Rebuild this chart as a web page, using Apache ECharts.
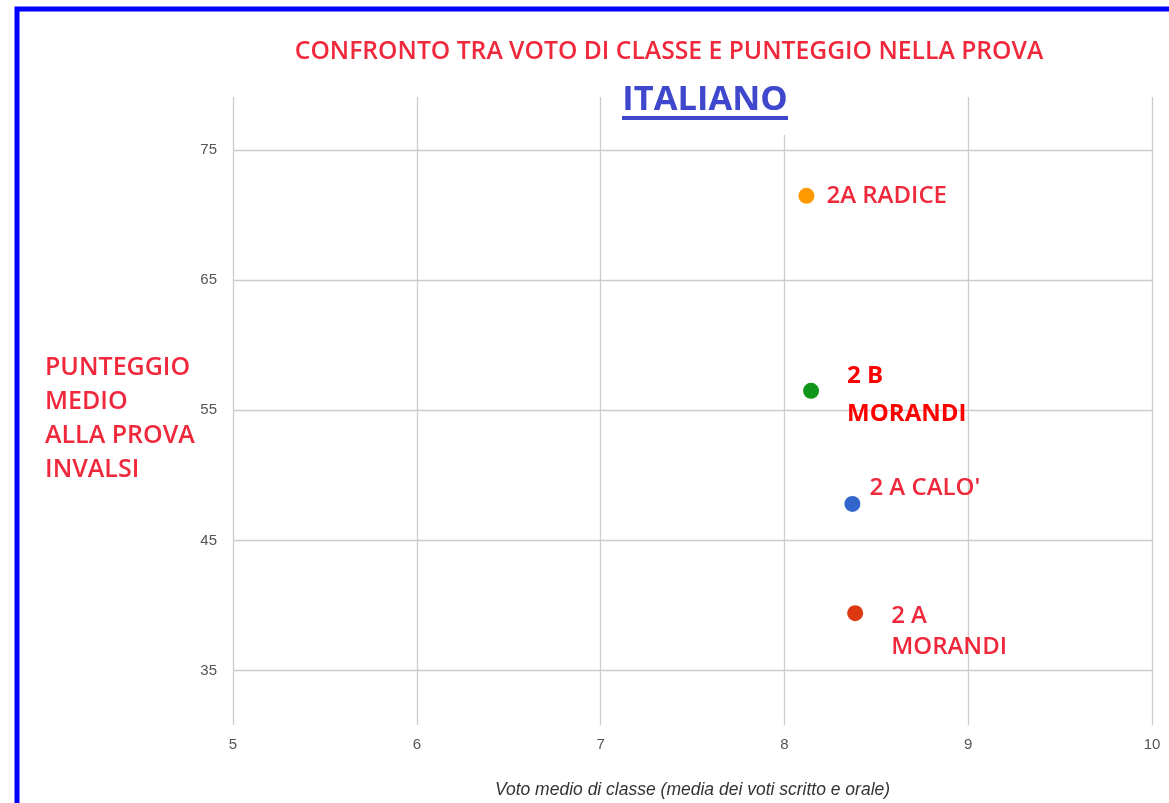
<!DOCTYPE html>
<html>
<head>
<meta charset="utf-8">
<script src="https://cdn.jsdelivr.net/npm/echarts@6/dist/echarts.min.js"></script>
<style>
  html, body { margin: 0; padding: 0; background: #fff; }
  #chart { width: 1169px; height: 803px; }
</style>
</head>
<body>
<div id="chart"></div>
<script>
// dati
var classi = ["2A RADICE", "2 B\nMORANDI", "2 A CALO'", "2 A\nMORANDI"];
var votoMedio = [8.12, 8.145, 8.37, 8.385];
var punteggio = [71.5, 56.5, 47.8, 39.4];
var xTicks = [5, 6, 7, 8, 9, 10];
var yTicks = [35, 45, 55, 65, 75];

var colori = ["#ff9900", "#109618", "#3366cc", "#dc3912"];
var rosso = "#f0283c";
var font = '"Open Sans", sans-serif';

// etichette messe a mano come nel foglio originale
var etichette = [
  { distance: 12, offset: [0, 0], fontWeight: 600, color: rosso, lineHeight: 34 },
  { distance: 28, offset: [0, 4], fontWeight: 700, color: "#ff0000", lineHeight: 38 },
  { distance: 9, offset: [0, -16], fontWeight: 600, color: rosso, lineHeight: 34 },
  { distance: 28, offset: [0, 18], fontWeight: 600, color: rosso, lineHeight: 31 }
];

var series = classi.map(function (nome, i) {
  return {
    name: nome,
    type: "scatter",
    data: [[votoMedio[i], punteggio[i]]],
    symbolSize: 16,
    itemStyle: { color: colori[i], opacity: 1 },
    label: {
      show: true,
      position: "right",
      distance: etichette[i].distance,
      offset: etichette[i].offset,
      formatter: nome,
      color: etichette[i].color,
      fontFamily: font,
      fontWeight: etichette[i].fontWeight,
      fontSize: 24,
      lineHeight: etichette[i].lineHeight,
      align: "left"
    },
    emphasis: { disabled: true }
  };
});

var chart = echarts.init(document.getElementById("chart"));
chart.setOption({
  animation: false,
  backgroundColor: "#fff",
  grid: { left: 233, right: 17, top: 97, bottom: 78, outerBoundsMode: "none" },
  xAxis: {
    type: "value",
    min: xTicks[0],
    max: xTicks[xTicks.length - 1],
    interval: 1,
    name: "Voto medio di classe (media dei voti scritto e orale)",
    nameLocation: "middle",
    nameGap: 56,
    nameTextStyle: { color: "#333", fontSize: 17.5, fontStyle: "italic", fontFamily: "Arial, sans-serif" },
    axisLine: { show: false },
    axisTick: { show: false },
    axisLabel: { color: "#555", fontSize: 15, margin: 12, fontFamily: "Arial, sans-serif" },
    splitLine: { show: true, lineStyle: { color: "#cccccc", width: 1.3 } }
  },
  yAxis: {
    type: "value",
    min: 30.8,
    max: 79.1,
    axisLine: { show: false },
    axisTick: { show: false, customValues: yTicks },
    axisLabel: { customValues: yTicks, color: "#555", fontSize: 15, margin: 16, fontFamily: "Arial, sans-serif" },
    splitLine: { show: true, lineStyle: { color: "#cccccc", width: 1.3 } }
  },
  series: series,
  graphic: [
    {
      type: "rect",
      silent: true,
      shape: { x: 17, y: 9, width: 1300, height: 900 },
      style: { fill: "none", stroke: "#0000ff", lineWidth: 5 }
    },
    {
      type: "text",
      x: 669, y: 52,
      style: {
        text: "CONFRONTO TRA VOTO DI CLASSE E PUNTEGGIO NELLA PROVA",
        fill: rosso, font: "600 24.7px " + font, align: "center", verticalAlign: "middle"
      }
    },
    // riquadro bianco dietro al titolo ITALIANO
    {
      type: "rect", z: 50, silent: true,
      shape: { x: 608, y: 78, width: 190, height: 57 },
      style: { fill: "#fff" }
    },
    {
      type: "text", z: 51,
      x: 705, y: 100,
      style: {
        text: "ITALIANO", fill: "#3f48cc", font: "700 34.5px " + font,
        align: "center", verticalAlign: "middle"
      }
    },
    {
      type: "line", z: 51, silent: true,
      shape: { x1: 622, y1: 118, x2: 788, y2: 118 },
      style: { stroke: "#3f48cc", lineWidth: 4 }
    },
    {
      type: "text",
      x: 45, y: 351,
      style: {
        text: "PUNTEGGIO\nMEDIO\nALLA PROVA\nINVALSI", fill: rosso,
        font: "600 25px " + font, lineHeight: 34, align: "left", verticalAlign: "top"
      }
    }
  ]
});
</script>
</body>
</html>
